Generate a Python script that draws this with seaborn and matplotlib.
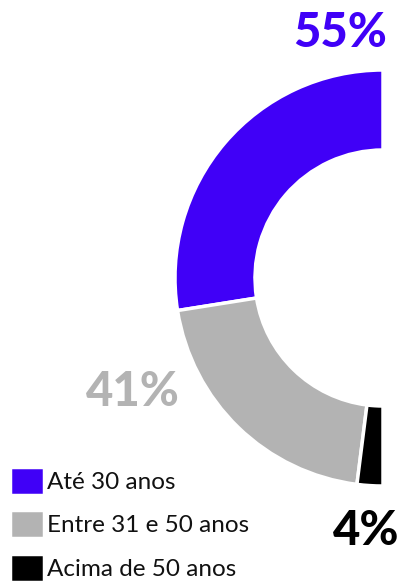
import seaborn as sns
import matplotlib.pyplot as plt

# --- Data ---
categories = ["Até 30 anos", "Entre 31 e 50 anos", "Acima de 50 anos"]
shares = [55, 41, 4]
colors = ["#4000F7", "#B3B3B3", "#000000"]
labels = ["55%", "41%", "4%"]

sns.set_theme(style="white")
plt.rcParams["font.family"] = ["Lato", "DejaVu Sans"]

W, H = 405, 584
fig = plt.figure(figsize=(W / 100, H / 100), dpi=100)
ax = fig.add_axes([0, 0, 1, 1])

# half donut: fractions of a full circle so the three add up to 180 deg
fractions = [s / 200 for s in shares]
wedges, _ = ax.pie(
    fractions,
    colors=colors,
    normalize=False,
    startangle=90,
    counterclock=True,
    center=(383, H - 278),
    radius=208,
    wedgeprops=dict(width=80, edgecolor="white", linewidth=2.5),
    frame=True,
)
ax.set_xlim(0, W)
ax.set_ylim(0, H)
ax.set_aspect("equal")
ax.axis("off")

# percentage labels
label_pos = [(387, H - 47), (180, H - 406), (399, H - 545)]
for (x, y), txt, c in zip(label_pos, labels, colors):
    ax.text(x, y, txt, color=c, fontsize=34, fontweight="black",
            ha="right", va="baseline")

leg = ax.legend(
    wedges,
    categories,
    loc="lower left",
    bbox_to_anchor=(10 / W, 2 / H),
    frameon=False,
    handlelength=1.4,
    handleheight=1.4,
    handletextpad=0.12,
    labelspacing=0.64,
    borderpad=0,
    borderaxespad=0,
    prop=dict(family=["Lato", "DejaVu Sans"], weight="normal", size=17.5),
)
for t in leg.get_texts():
    t.set_color("#111111")

fig.savefig("out.png", dpi=100)
